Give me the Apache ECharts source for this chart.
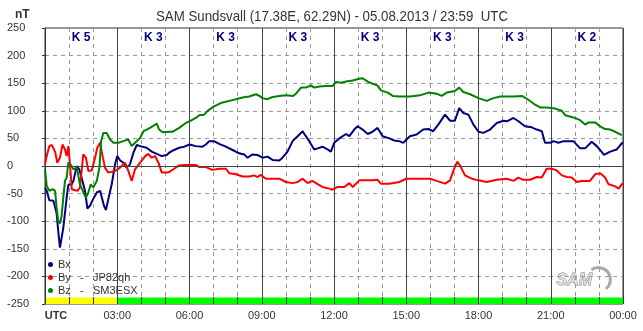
<!DOCTYPE html>
<html>
<head>
<meta charset="utf-8">
<script src="https://cdn.jsdelivr.net/npm/echarts@6/dist/echarts.min.js"></script>
<style>
  html, body { margin: 0; padding: 0; background: #fff; }
  #chart { width: 643px; height: 331px; }
</style>
</head>
<body>
<div id="chart"></div>
<script>
// Magnetometer traces, hours since 00:00 UTC and nT
const bxHours = [0,0.07,0.18,0.35,0.42,0.48,0.55,0.62,0.69,0.76,0.83,0.9,0.97,1.11,1.18,1.32,1.42,1.52,1.66,1.76,1.87,2.0,2.15,2.29,2.36,2.45,2.53,2.63,2.77,2.91,3.0,3.12,3.25,3.39,3.53,3.67,3.81,3.95,4.22,4.43,4.64,4.85,5.06,5.15,5.36,5.57,5.78,6.0,6.26,6.54,6.68,6.82,7.02,7.23,7.51,7.79,8.06,8.27,8.41,8.62,8.82,9.03,9.24,9.45,9.73,9.86,10.07,10.28,10.49,10.7,10.77,10.97,11.18,11.32,11.52,11.73,11.87,12.01,12.22,12.5,12.64,12.84,12.98,13.19,13.4,13.6,13.81,14.02,14.3,14.5,14.71,14.88,15.15,15.43,15.7,15.92,16.12,16.33,16.61,16.82,17.02,17.2,17.37,17.58,17.79,18.0,18.2,18.48,18.76,19.04,19.18,19.45,19.66,19.93,20.21,20.42,20.63,20.76,20.97,21.11,21.32,21.53,21.74,21.94,22.22,22.43,22.7,22.91,23.05,23.21,23.47,23.74,23.99];
const bxValues = [-40,-45,-62,-63,-62,-85,-118,-148,-147,-112,-85,-57,-34,-33,-27,0,-6,-21,-45,-77,-72,-60,-48,-45,-57,-72,-80,-60,-33,3,18,10,6,-3,3,24,38,36,33,26,22,18,20,24,29,33,35,39,36,35,39,45,45,40,35,29,23,21,15,21,20,15,17,11,10,15,26,45,54,63,58,45,30,32,35,30,26,42,50,58,54,66,72,66,58,62,69,54,50,46,45,42,54,57,66,67,63,75,93,82,82,105,96,93,75,62,60,66,78,82,81,87,81,72,70,66,63,42,42,45,42,45,45,45,32,32,44,36,29,20,26,30,43];

const byHours = [0,0.07,0.18,0.28,0.42,0.51,0.62,0.73,0.83,0.9,0.97,1.06,1.11,1.25,1.35,1.45,1.59,1.7,1.8,1.94,2.08,2.17,2.29,2.35,2.49,2.63,2.7,2.91,3.12,3.32,3.46,3.6,3.74,3.95,4.16,4.29,4.43,4.57,4.71,4.85,5.06,5.15,5.36,5.57,5.78,6.0,6.26,6.4,6.68,6.95,7.23,7.51,7.65,7.93,8.2,8.48,8.69,8.82,8.96,9.17,9.45,9.73,10.0,10.28,10.49,10.7,10.9,11.1,11.32,11.52,11.8,11.94,12.15,12.43,12.64,12.78,13.05,13.33,13.6,13.81,13.95,14.3,14.71,15.01,15.57,15.99,16.26,16.61,16.82,16.96,17.12,17.23,17.44,17.72,18.0,18.34,18.76,19.17,19.45,19.66,19.86,20.14,20.42,20.63,20.83,21.04,21.25,21.46,21.67,21.87,22.08,22.29,22.63,22.84,23.05,23.26,23.4,23.68,23.82,23.99];
const byValues = [3,18,36,38,26,6,15,39,30,18,36,-9,-42,-44,-45,-39,21,15,-9,-8,15,33,42,27,-3,-12,-15,-9,-3,6,-9,-27,-6,6,18,22,15,18,6,-12,-12,-11,-5,1,2,2,2,-2,-2,-7,-5,-5,-13,-15,-19,-19,-17,-20,-16,-23,-23,-23,-29,-31,-29,-23,-31,-27,-33,-38,-41,-43,-38,-38,-31,-38,-26,-26,-26,-25,-32,-32,-29,-23,-23,-23,-27,-32,-26,-8,8,1,-17,-23,-26,-29,-25,-23,-27,-21,-25,-25,-20,-21,-5,-5,-8,-17,-20,-21,-29,-27,-27,-15,-13,-21,-33,-37,-41,-31];

const bzHours = [0,0.07,0.18,0.32,0.42,0.48,0.55,0.62,0.69,0.76,0.83,0.9,0.97,1.06,1.18,1.32,1.45,1.59,1.7,1.8,1.9,2.0,2.15,2.26,2.33,2.42,2.56,2.7,2.84,3.05,3.25,3.46,3.6,3.74,3.95,4.09,4.22,4.4,4.64,4.74,4.88,5.15,5.29,5.57,5.85,6.0,6.26,6.4,6.61,6.75,7.02,7.3,7.65,7.93,8.2,8.48,8.76,8.9,9.03,9.24,9.45,9.73,10.0,10.3,10.42,10.63,10.83,11.04,11.18,11.39,11.67,11.94,12.08,12.3,12.5,12.77,13.05,13.19,13.4,13.6,13.8,13.95,14.23,14.44,14.71,15.15,15.57,15.92,16.26,16.47,16.68,17.02,17.2,17.37,17.65,18.0,18.34,18.62,18.9,19.45,19.8,20.07,20.35,20.56,20.83,21.18,21.46,21.6,21.94,22.22,22.43,22.57,22.84,23.05,23.26,23.47,23.68,23.95];
const bzValues = [-6,-36,-45,-42,-45,-75,-100,-104,-91,-57,-27,-21,6,3,-6,-3,-33,-48,-57,-48,-33,-39,-27,-3,45,60,60,48,42,42,45,48,36,42,51,63,66,70,77,66,61,62,62,69,78,81,87,92,93,100,108,114,118,121,124,126,130,127,123,121,125,127,128,127,131,142,142,146,142,144,145,145,152,151,153,155,158,159,153,149,146,137,133,127,126,126,128,133,131,127,133,136,142,134,130,123,118,123,126,126,127,120,111,106,106,104,100,92,88,83,75,79,79,72,67,66,62,56];

// K index per 3-hour block, and the status strip along the bottom
const kLabels = ['K 5', 'K 3', 'K 3', 'K 3', 'K 3', 'K 3', 'K 3', 'K 2'];
const hourLabels = ['UTC', '03:00', '06:00', '09:00', '12:00', '15:00', '18:00', '21:00', '00:00'];
const statusFrom = [0, 3, 18];
const statusTo = [3, 18, 24];
const statusLevel = ['storm', 'quiet', 'quiet'];

const legendNames = { Bx: ['Bx', '', ''], By: ['By', '-', 'JP82qh'], Bz: ['Bz', '-', 'SM3ESX'] };

const zip = (h, v) => h.map((t, i) => [t, v[i]]);
const statusColor = { storm: '#ffff00', quiet: '#00ff00' };

const bandAreas = statusFrom.map((s, i) => {
  // leave a 1px seam where two equal blocks meet
  const start = i > 0 && statusLevel[i - 1] === statusLevel[i] ? s + 0.04 : s;
  return [
    { xAxis: start, yAxis: -250, itemStyle: { color: statusColor[statusLevel[i]] } },
    { xAxis: statusTo[i], yAxis: -238 }
  ];
});

const chart = echarts.init(document.getElementById('chart'));
const font = 'Liberation Sans, Arial, sans-serif';

const lineSeries = (name, data, color) => ({
  name, type: 'line', data, xAxisIndex: 0, yAxisIndex: 0,
  showSymbol: false, symbol: 'circle', symbolSize: 5,
  lineStyle: { color, width: 2 }, itemStyle: { color },
  z: 3, animation: false
});

const legendRich = { width: 22, fontSize: 11, lineHeight: 13 };

chart.setOption({
  backgroundColor: '#fff',
  animation: false,
  textStyle: { fontFamily: font },
  graphic: [
    {
      type: 'text', x: 156, y: 9, scaleX: 0.885,
      style: { text: 'SAM Sundsvall (17.38E, 62.29N) - 05.08.2013 / 23:59  UTC', font: '15px ' + font, fill: '#333' }
    },
    { type: 'text', left: 15, top: 9, style: { text: 'nT', font: 'bold 12px ' + font, fill: '#333' } },
    {
      type: 'group', left: 556, top: 265, children: [
        { type: 'arc', shape: { cx: 44, cy: 13, r: 12, startAngle: -2.2, endAngle: 0.9 }, style: { stroke: '#aaa', lineWidth: 3, fill: null } },
        { type: 'text', x: 2, y: 6, style: { text: 'SAM', font: 'italic bold 16px ' + font, fill: '#ddd', stroke: '#777', lineWidth: 0.8 } }
      ]
    }
  ],
  legend: {
    orient: 'vertical', left: 48, top: 258, padding: 0,
    icon: 'circle', itemWidth: 5, itemHeight: 5, itemGap: 0,
    data: ['Bx', 'By', 'Bz'],
    formatter: n => `{a|${legendNames[n][0]}}{b|${legendNames[n][1]}}{c|${legendNames[n][2]}}`,
    textStyle: {
      fontSize: 11, color: '#333', lineHeight: 13,
      rich: { a: legendRich, b: { ...legendRich, width: 13 }, c: { fontSize: 11, lineHeight: 13 } }
    }
  },
  grid: { left: 45, right: 20, top: 28, bottom: 27, show: true, borderColor: '#333', borderWidth: 1, backgroundColor: '#fff' },
  xAxis: [
    {
      type: 'value', min: 0, max: 24, interval: 3,
      axisLine: { lineStyle: { color: '#333' } },
      axisTick: { show: false },
      minorTick: { show: false, splitNumber: 3 },
      minorSplitLine: { show: true, lineStyle: { color: '#999', type: [4, 4] } },
      splitLine: { show: true, lineStyle: { color: '#444', width: 1 } },
      axisLabel: {
        fontSize: 11, color: '#333', margin: 6, showMinLabel: true, showMaxLabel: true,
        formatter: v => v === 0 ? '{u|UTC}' : hourLabels[v / 3],
        rich: { u: { fontWeight: 'bold', fontSize: 11, color: '#333', padding: [0, 0, 0, 22] } }
      }
    },
    {
      type: 'category', position: 'top', data: kLabels, boundaryGap: true,
      axisLine: { show: false }, axisTick: { show: false }, splitLine: { show: false },
      axisLabel: { inside: true, margin: 4, fontSize: 12, fontWeight: 'bold', color: '#000080' }
    },
    {
      type: 'value', min: 0, max: 24, interval: 1, position: 'bottom', z: 10,
      axisLine: { show: false }, axisLabel: { show: false }, splitLine: { show: false },
      axisTick: { show: true, inside: true, length: 7, lineStyle: { color: '#333' } }
    }
  ],
  yAxis: {
    type: 'value', min: -250, max: 250, interval: 50,
    axisLine: { show: true, lineStyle: { color: '#333' } },
    axisTick: { show: true, length: 3, lineStyle: { color: '#333' } },
    axisLabel: { fontSize: 11, color: '#333', align: 'left', margin: 38 },
    splitLine: { show: true, lineStyle: { color: '#999', type: [4, 4] } }
  },
  series: [
    {
      name: 'status', type: 'line', data: [], xAxisIndex: 0, yAxisIndex: 0, z: 2, silent: true,
      markArea: { silent: true, data: bandAreas },
      markLine: {
        silent: true, symbol: 'none', label: { show: false },
        lineStyle: { color: '#444', type: 'solid', width: 1 },
        data: [{ yAxis: 0 }]
      }
    },
    lineSeries('Bx', zip(bxHours, bxValues), '#000080'),
    lineSeries('By', zip(byHours, byValues), '#ff0000'),
    lineSeries('Bz', zip(bzHours, bzValues), '#008000')
  ]
});
</script>
</body>
</html>
